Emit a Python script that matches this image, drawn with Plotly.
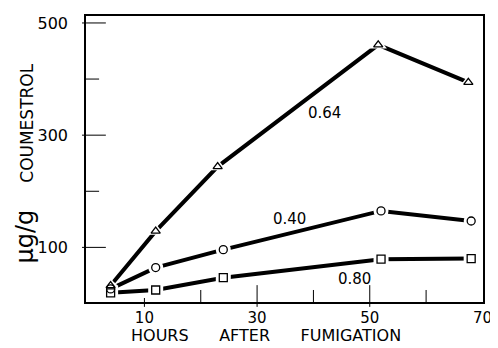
import plotly.graph_objects as go

# Data
hours_064 = [4, 12, 23, 51.5, 67.5]
coum_064 = [32, 129, 244, 461, 394]
hours_040 = [4, 12, 24, 52, 68]
coum_040 = [26, 64, 96, 165, 147]
hours_080 = [4, 12, 24, 52, 68]
coum_080 = [19, 24, 46, 79, 80]

x_ticks = [10, 30, 50, 70]
x_minor = [20, 40, 60]
y_ticks = [100, 300, 500]
y_minor = [200, 400]

series = [
    (hours_064, coum_064, "triangle-up", "0.64"),
    (hours_040, coum_040, "circle", "0.40"),
    (hours_080, coum_080, "square", "0.80"),
]

label_pos = {"0.64": (42.0, 339), "0.40": (35.8, 151), "0.80": (47.3, 43)}

fig = go.Figure()
for xs, ys, sym, name in series:
    fig.add_trace(go.Scatter(x=xs, y=ys, mode="lines",
                             line=dict(color="black", width=4),
                             showlegend=False, hoverinfo="skip"))
for xs, ys, sym, name in series:
    fig.add_trace(go.Scatter(x=xs, y=ys, mode="markers",
                             marker=dict(symbol=sym, size=15, color="white",
                                         line=dict(width=0)),
                             showlegend=False, hoverinfo="skip"))
for xs, ys, sym, name in series:
    fig.add_trace(go.Scatter(x=xs, y=ys, mode="markers", name=name,
                             marker=dict(symbol=sym + "-open", size=8, color="black",
                                         line=dict(width=1.3, color="black")),
                             showlegend=False))

FONT = "DejaVu Sans"
# page body has an 8px margin; figure is sized so the plot area lands at x 86-487, y 14-302
W, H = 490, 340
L, R, T, B = 78, 11, 6, 46
fig.update_layout(
    width=W, height=H,
    margin=dict(l=L, r=R, t=T, b=B),
    paper_bgcolor="white", plot_bgcolor="white",
    font=dict(family=FONT, color="black", size=16),
    xaxis=dict(range=[-0.37, 70.1], tickvals=x_ticks, ticks="", showgrid=False,
               zeroline=False, showline=True, linecolor="black", linewidth=1.5,
               mirror=True, tickfont=dict(size=15), ticklabelstandoff=1),
    yaxis=dict(range=[2.65, 512.4], tickvals=y_ticks, ticks="", showgrid=False,
               zeroline=False, showline=True, linecolor="black", linewidth=1.5,
               mirror=True, tickfont=dict(size=16), ticklabelstandoff=13),
)

shapes = []
for v in y_ticks:
    shapes.append(dict(type="line", xref="paper", yref="y", x0=-0.01, x1=0.05,
                       y0=v, y1=v, line=dict(color="black", width=1)))
for v in y_minor:
    shapes.append(dict(type="line", xref="paper", yref="y", x0=0, x1=0.033,
                       y0=v, y1=v, line=dict(color="black", width=1)))
for v in x_ticks[:-1]:
    up = 0.014 if v == 10 else 0.059
    shapes.append(dict(type="line", xref="x", yref="paper", x0=v, x1=v,
                       y0=-0.017, y1=up, line=dict(color="black", width=1)))
for v in x_minor:
    shapes.append(dict(type="line", xref="x", yref="paper", x0=v, x1=v,
                       y0=0, y1=0.042, line=dict(color="black", width=1)))
fig.update_layout(shapes=shapes)

for name, (lx, ly) in label_pos.items():
    fig.add_annotation(x=lx, y=ly, xref="x", yref="y", text=name, showarrow=False,
                       font=dict(size=15, family=FONT))

pw, ph = W - L - R, H - T - B
x0_px, y0_px = 86, 302  # plot area origin in page pixels

def px_to_paper(px, py):
    return (px - x0_px) / pw, (y0_px - py) / ph

tx, ty = px_to_paper(268, 336)
fig.add_annotation(x=tx, y=ty, xref="paper", yref="paper", xanchor="center", yanchor="middle",
                   text="HOURS      AFTER      FUMIGATION",
                   showarrow=False, font=dict(size=16, family=FONT))
yx, yy = px_to_paper(24, 163)
fig.add_annotation(x=yx, y=yy, xref="paper", yref="paper", xanchor="center", yanchor="middle",
                   text='<span style="font-size:24px">μg/g</span>     COUMESTROL',
                   textangle=-90, showarrow=False, font=dict(size=17, family=FONT))

fig.write_html("out.html")
